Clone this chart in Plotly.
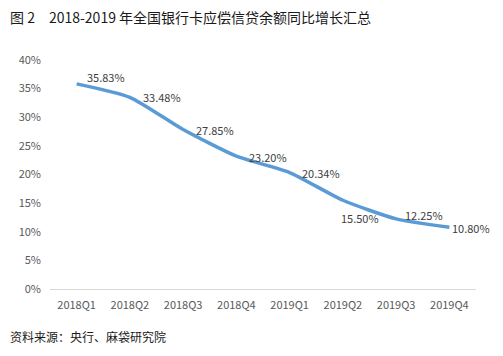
import plotly.graph_objects as go

quarters = ["2018Q1", "2018Q2", "2018Q3", "2018Q4", "2019Q1", "2019Q2", "2019Q3", "2019Q4"]
growth = [35.83, 33.48, 27.85, 23.20, 20.34, 15.50, 12.25, 10.80]
y_ticks = [0, 5, 10, 15, 20, 25, 30, 35, 40]
y_tick_labels = [f"{v}%" for v in y_ticks]

# label placement offsets (px) relative to each point
label_dx = [8, 11, 11, 11, 10, -4, 7, 1]
label_dy = [7, 0, 0, -1, 0, -18, 4, -1]

font_family = "Noto Sans CJK SC, Noto Sans, sans-serif"

fig = go.Figure()
fig.add_trace(go.Scatter(
    x=quarters, y=growth,
    mode="lines",
    line=dict(color="#5B9BD5", width=3.5, shape="spline", smoothing=0.6),
    showlegend=False, hoverinfo="skip",
))

annotations = [
    dict(x=q, y=v, xref="x", yref="y", text=f"{v:.2f}%", showarrow=False,
         xanchor="left", yanchor="middle", xshift=dx, yshift=dy,
         font=dict(size=11, color="#404040", family=font_family))
    for q, v, dx, dy in zip(quarters, growth, label_dx, label_dy)
]
annotations += [
    dict(text="图 2　2018-2019 年全国银行卡应偿信贷余额同比增长汇总",
         xref="paper", yref="paper", x=0, y=1, xanchor="left", yanchor="middle",
         xshift=-42, yshift=43, showarrow=False,
         font=dict(size=14, color="#1a1a1a", family=font_family)),
    dict(text="资料来源：央行、麻袋研究院",
         xref="paper", yref="paper", x=0, y=0, xanchor="left", yanchor="middle",
         xshift=-42, yshift=-47, showarrow=False,
         font=dict(size=12, color="#1a1a1a", family=font_family)),
]

fig.update_layout(
    width=503, height=356,
    margin=dict(l=50, r=27, t=60, b=67),
    paper_bgcolor="white", plot_bgcolor="white",
    font=dict(family=font_family, color="#595959", size=11),
    xaxis=dict(
        type="category", range=[-0.5, 7.5],
        showgrid=False, showline=True, linecolor="#D9D9D9", linewidth=1,
        ticks="", tickfont=dict(size=11, color="#595959"),
        ticklabelstandoff=6,
    ),
    yaxis=dict(
        range=[0, 40], tickvals=y_ticks, ticktext=y_tick_labels,
        showgrid=False, zeroline=False, showline=False, ticks="",
        tickfont=dict(size=11, color="#595959"),
        ticklabelstandoff=8,
    ),
    annotations=annotations,
)

fig.write_html("out.html", config={"displayModeBar": False},
               post_script="document.body.style.margin='0';")
